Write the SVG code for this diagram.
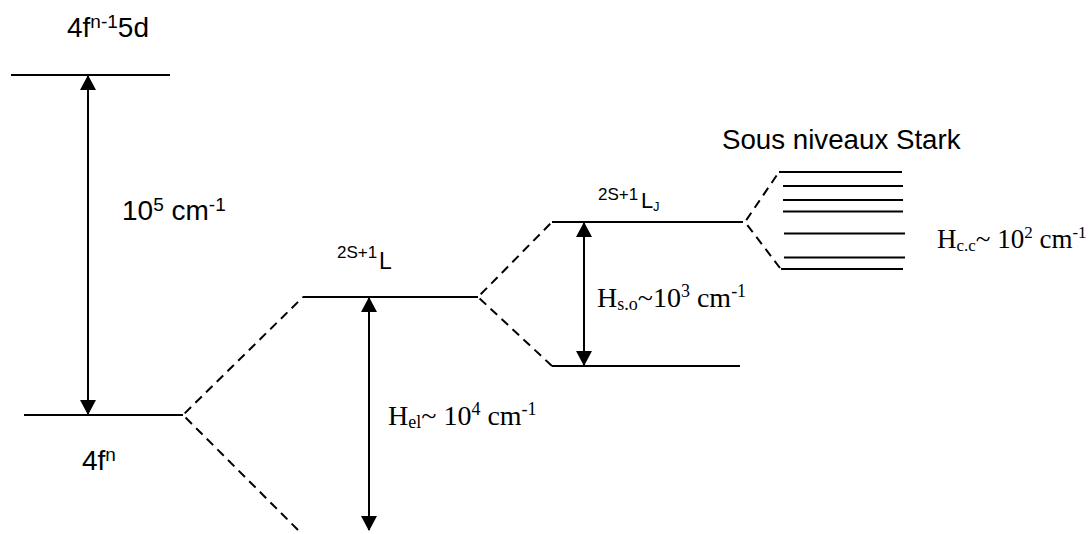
<svg xmlns="http://www.w3.org/2000/svg" width="1089" height="534" viewBox="0 0 1089 534">
<defs>
<marker id="ah" markerUnits="userSpaceOnUse" markerWidth="15" markerHeight="16" viewBox="0 0 15 16" refX="14" refY="8" orient="auto-start-reverse">
<path d="M0,0 L15,8 L0,16 z" fill="#000"/>
</marker>
<style>
.lvl{stroke:#000;stroke-width:2;fill:none}
.dash{stroke:#000;stroke-width:2;fill:none;stroke-dasharray:9 6}
.arr{stroke:#000;stroke-width:2;fill:none;marker-start:url(#ah);marker-end:url(#ah)}
.cal{font-family:"Liberation Sans",Arial,sans-serif;fill:#000}
.tim{font-family:"Liberation Serif","Times New Roman",serif;fill:#000}
</style>
</defs>
<rect width="1089" height="534" fill="#fff"/>

<g id="level-4fn-1-5d">
<line class="lvl" x1="11" y1="75" x2="170" y2="75"/>
<text class="cal" x="67" y="37" font-size="28">4f<tspan font-size="19" dy="-9">n-1</tspan><tspan dy="9">5d</tspan></text>
</g>

<g id="level-4fn">
<line class="lvl" x1="24" y1="415" x2="183" y2="415"/>
<text class="cal" x="82" y="470" font-size="28">4f<tspan font-size="19" dy="-9">n</tspan></text>
</g>

<g id="level-2S1L">
<line class="lvl" x1="303" y1="297" x2="478" y2="297"/>
<text class="cal" x="337" y="258" font-size="17">2S+1</text>
<text class="cal" x="379" y="269" font-size="23">L</text>
</g>

<g id="level-2S1LJ">
<line class="lvl" x1="552" y1="222" x2="743" y2="222"/>
<text class="cal" x="598" y="200" font-size="17">2S+1</text>
<text class="cal" x="641" y="208" font-size="22">L</text>
<text class="cal" x="653" y="211" font-size="13">J</text>
</g>

<g id="level-lower-J">
<line class="lvl" x1="552" y1="366" x2="740" y2="366"/>
</g>

<g id="stark">
<text class="cal" x="722" y="149" font-size="27.7">Sous niveaux Stark</text>
<line class="lvl" x1="779" y1="172" x2="902" y2="172"/>
<line class="lvl" x1="783" y1="186" x2="903" y2="186"/>
<line class="lvl" x1="783" y1="200" x2="903" y2="200"/>
<line class="lvl" x1="783" y1="211.5" x2="903" y2="211.5"/>
<line class="lvl" x1="784" y1="233.5" x2="905" y2="233.5"/>
<line class="lvl" x1="784" y1="257.5" x2="905" y2="257.5"/>
<line class="lvl" x1="781" y1="269" x2="903" y2="269"/>
<text class="tim" x="937" y="248" font-size="27">H<tspan font-size="17" dy="3">c.c</tspan><tspan dy="-3">~ 10</tspan><tspan font-size="17" dy="-10">2</tspan><tspan dy="10"> cm</tspan><tspan font-size="17" dy="-10">-1</tspan></text>
</g>

<g id="labels">
<text class="cal" x="122" y="220" font-size="28">10<tspan font-size="19" dy="-9">5</tspan><tspan dy="9"> cm</tspan><tspan font-size="19" dy="-9">-1</tspan></text>
<text class="tim" x="388" y="425" font-size="28">H<tspan font-size="18" dy="3">el</tspan><tspan dy="-3">~ 10</tspan><tspan font-size="18" dy="-10">4</tspan><tspan dy="10"> cm</tspan><tspan font-size="18" dy="-10">-1</tspan></text>
<text class="tim" x="597" y="307" font-size="28">H<tspan font-size="18" dy="3">s.o</tspan><tspan dy="-3">~10</tspan><tspan font-size="18" dy="-10">3</tspan><tspan dy="10"> cm</tspan><tspan font-size="18" dy="-10">-1</tspan></text>
</g>

<g id="connectors">
<path class="dash" d="M298,530 L183,415 L303,297"/>
<path class="dash" d="M552,366 L478,297 L552,222"/>
<path class="dash" d="M780,268 L745,222 L779,172"/>
<line class="arr" x1="88" y1="76" x2="88" y2="414"/>
<line class="arr" x1="369" y1="298" x2="369" y2="530"/>
<line class="arr" x1="584" y1="223" x2="584" y2="365"/>
</g>
</svg>
